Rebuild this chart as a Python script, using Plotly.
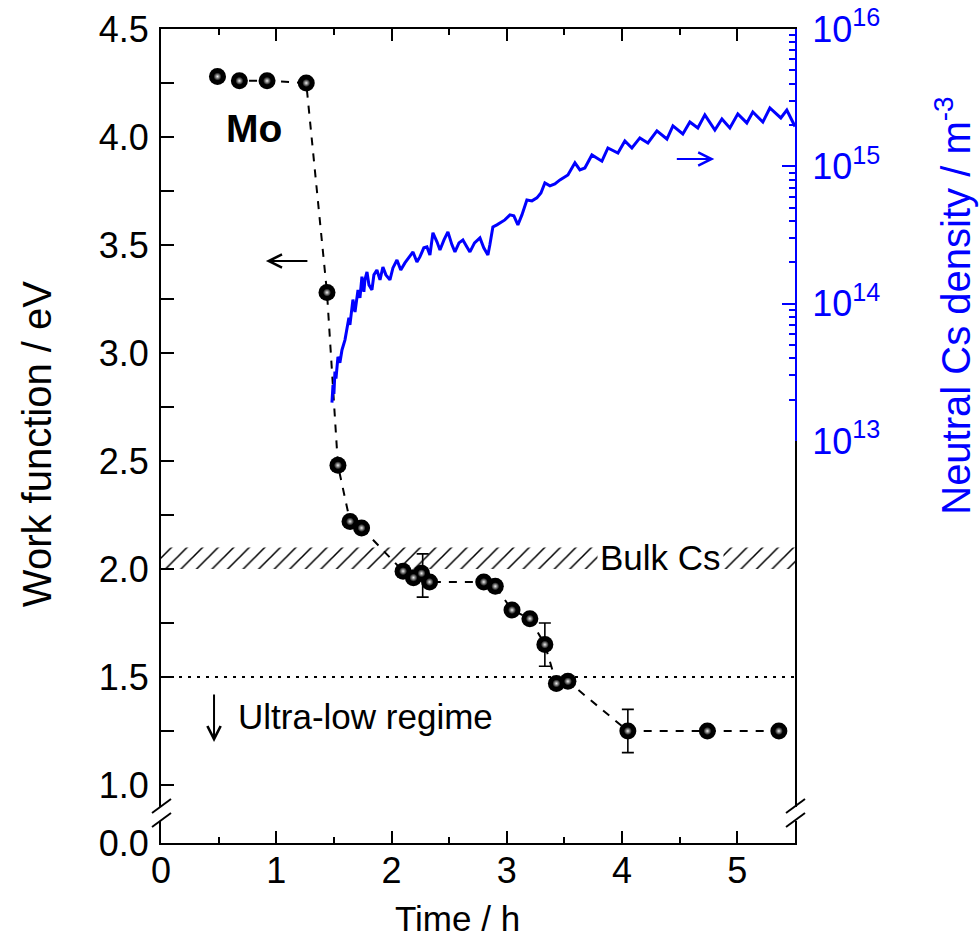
import plotly.graph_objects as go

# ---------------- data ----------------
# Work function of Mo during Cs exposure
wf_time = [0.49, 0.68, 0.92, 1.26, 1.44, 1.535, 1.64, 1.74, 2.10, 2.19, 2.26, 2.33,
           2.80, 2.90, 3.045, 3.20, 3.33, 3.43, 3.53, 4.05, 4.74, 5.36]
wf_value = [4.28, 4.26, 4.26, 4.25, 3.28, 2.48, 2.22, 2.19, 1.99, 1.96, 1.98, 1.94,
            1.94, 1.92, 1.81, 1.77, 1.65, 1.47, 1.48, 1.25, 1.25, 1.25]
# points carrying error bars
err_time = [2.27, 3.33, 4.05]
err_value = [1.97, 1.65, 1.25]
err_size = [0.10, 0.10, 0.10]

# Neutral Cs density (m^-3)
cs_time = [1.483, 1.492, 1.50, 1.509, 1.518, 1.535, 1.552, 1.57, 1.596, 1.613, 1.63, 1.639,
           1.665, 1.683, 1.709, 1.726, 1.743, 1.76, 1.769, 1.787, 1.804, 1.830, 1.847, 1.873,
           1.90, 1.925, 1.951, 1.986, 2.012, 2.047, 2.08, 2.116, 2.15, 2.186, 2.22, 2.246,
           2.28, 2.307, 2.333, 2.359, 2.394, 2.420, 2.455, 2.489, 2.524, 2.550, 2.585, 2.619,
           2.654, 2.680, 2.72, 2.767, 2.80, 2.836, 2.853, 2.879, 2.914, 2.940, 2.983, 3.027,
           3.061, 3.096, 3.131, 3.174, 3.218, 3.261, 3.296, 3.330, 3.374, 3.417, 3.461,
           3.530, 3.591, 3.634, 3.677, 3.738, 3.825, 3.877, 3.964, 4.024, 4.085, 4.154,
           4.224, 4.302, 4.389, 4.441, 4.527, 4.588, 4.657, 4.718, 4.805, 4.866, 4.935,
           5.004, 5.082, 5.134, 5.221, 5.282, 5.377, 5.429, 5.481, 5.50]
cs_density = [1.90e13, 2.55e13, 2.20e13, 3.20e13, 2.85e13, 4.10e13, 3.71e13, 4.60e13, 5.45e13,
              6.40e13, 7.90e13, 7.00e13, 1.07e14, 8.70e13, 1.26e14, 1.10e14, 1.57e14, 1.22e14,
              1.49e14, 1.70e14, 1.37e14, 1.26e14, 1.62e14, 1.76e14, 1.49e14, 1.85e14, 1.62e14,
              1.49e14, 1.82e14, 2.08e14, 1.76e14, 1.98e14, 2.15e14, 2.38e14, 2.01e14, 2.19e14,
              2.55e14, 2.59e14, 2.26e14, 3.28e14, 2.82e14, 2.46e14, 2.91e14, 3.33e14, 2.68e14,
              2.38e14, 2.77e14, 2.91e14, 2.59e14, 2.38e14, 2.77e14, 3.01e14, 2.55e14, 2.26e14,
              2.68e14, 3.62e14, 3.75e14, 3.87e14, 4.07e14, 4.43e14, 4.36e14, 3.75e14, 4.43e14,
              5.69e14, 5.60e14, 5.89e14, 6.40e14, 7.57e14, 7.20e14, 7.45e14, 7.96e14,
              8.65e14, 1.06e15, 9.42e14, 9.73e14, 1.21e15, 1.09e15, 1.36e15, 1.25e15, 1.53e15,
              1.36e15, 1.61e15, 1.48e15, 1.81e15, 1.58e15, 1.97e15, 1.72e15, 2.10e15, 1.90e15,
              2.37e15, 1.84e15, 2.21e15, 1.90e15, 2.41e15, 2.07e15, 2.49e15, 2.10e15, 2.66e15,
              2.25e15, 2.57e15, 2.07e15, 1.95e15]

bulk_cs_band = [2.0, 2.1]          # work function of bulk Cs (eV)
ultra_low_level = 1.5              # ultra-low regime threshold (eV)

x_ticks = [0, 1, 2, 3, 4, 5]
y_labels = ["1.0", "1.5", "2.0", "2.5", "3.0", "3.5", "4.0", "4.5"]
y_label_vals = [1.0, 1.5, 2.0, 2.5, 3.0, 3.5, 4.0, 4.5]
y_minor_vals = [1.25, 1.75, 2.25, 2.75, 3.25, 3.75, 4.25]
y2_tick_vals = [1e13, 1e14, 1e15, 1e16]
y2_tick_text = ["10<sup>13</sup>", "10<sup>14</sup>", "10<sup>15</sup>", "10<sup>16</sup>"]

# ---------------- layout constants ----------------
Y_BOTTOM = 0.7315      # axis bottom (displayed as 0.0 after break)
BREAK_Y = 0.866
FONT = "Liberation Sans, Arial, sans-serif"
BLUE = "#0000FF"

fig = go.Figure()

# hatched bulk Cs band
fig.add_trace(go.Scatter(
    x=[0, 5.5, 5.5, 0, 0],
    y=[bulk_cs_band[0], bulk_cs_band[0], bulk_cs_band[1], bulk_cs_band[1], bulk_cs_band[0]],
    fill="toself", mode="none", fillcolor="white",
    fillpattern=dict(shape="/", fgcolor="black", fgopacity=1, bgcolor="white",
                     size=11, solidity=0.14),
    hoverinfo="skip", showlegend=False))

# error bars
fig.add_trace(go.Scatter(
    x=err_time, y=err_value, mode="markers",
    marker=dict(size=1, color="rgba(0,0,0,0)"),
    error_y=dict(type="data", array=err_size, color="black", thickness=1.6, width=6),
    showlegend=False, hoverinfo="skip"))

# dashed connecting line
fig.add_trace(go.Scatter(
    x=wf_time, y=wf_value, mode="lines",
    line=dict(color="black", width=2, dash="8px,8px"),
    showlegend=False, hoverinfo="skip"))

# sphere markers
fig.add_trace(go.Scatter(
    x=wf_time, y=wf_value, mode="markers",
    marker=dict(size=17, color="black", line=dict(width=0)),
    showlegend=False))
fig.add_trace(go.Scatter(
    x=wf_time, y=wf_value, mode="markers",
    marker=dict(size=8, color="black", line=dict(width=0),
                gradient=dict(type="radial", color="#eeeeee")),
    showlegend=False, hoverinfo="skip"))

# neutral Cs density
fig.add_trace(go.Scatter(
    x=cs_time, y=cs_density, mode="lines", yaxis="y2",
    line=dict(color=BLUE, width=3), showlegend=False))

tick_font = dict(family=FONT, size=36, color="black")

fig.update_layout(
    width=980, height=943,
    margin=dict(l=161, r=185, t=29, b=100, autoexpand=False),
    paper_bgcolor="white", plot_bgcolor="rgba(0,0,0,0)",
    font=dict(family=FONT, color="black"),
    xaxis=dict(
        range=[0, 5.5], showgrid=False, zeroline=False, automargin=False,
        showline=True, linecolor="black", linewidth=2, mirror="ticks",
        ticks="inside", ticklen=12, tickwidth=2, tickcolor="black",
        tickvals=x_ticks, tickfont=tick_font, ticklabelstandoff=-5,
        minor=dict(dtick=0.5, tick0=0, ticks="inside", ticklen=6, tickwidth=2,
                   tickcolor="black", showgrid=False),
    ),
    yaxis=dict(
        range=[Y_BOTTOM, 4.5], showgrid=False, zeroline=False, automargin=False,
        showline=True, linecolor="black", linewidth=2, mirror=True,
        ticks="inside", ticklen=13, tickwidth=2, tickcolor="black",
        tickvals=[Y_BOTTOM] + y_label_vals + y_minor_vals,
        ticktext=["0.0"] + y_labels + [""] * len(y_minor_vals),
        tickfont=tick_font, ticklabelstandoff=3,
    ),
    yaxis2=dict(
        type="log", range=[13, 16], domain=[0.4939, 1], anchor="x", side="right",
        showgrid=False, zeroline=False, automargin=False,
        showline=True, linecolor=BLUE, linewidth=2,
        ticks="inside", ticklen=13, tickwidth=2, tickcolor=BLUE,
        tickvals=y2_tick_vals, ticktext=y2_tick_text,
        tickfont=dict(family=FONT, size=36, color=BLUE), ticklabelstandoff=8,
        minor=dict(ticks="inside", ticklen=6, tickwidth=2, tickcolor=BLUE,
                   dtick="D1", showgrid=False),
    ),
)

# ultra-low dotted threshold
fig.add_shape(type="line", xref="paper", x0=0, x1=1, yref="y",
              y0=ultra_low_level, y1=ultra_low_level,
              line=dict(color="black", width=2, dash="3px,6px"))

# axis breaks (left and right)
for xa in (0, 1):
    fig.add_shape(type="rect", xref="paper", xsizemode="pixel", xanchor=xa, x0=-5, x1=5,
                  yref="y", ysizemode="pixel", yanchor=BREAK_Y, y0=-7, y1=7,
                  fillcolor="white", line=dict(width=0), layer="above")
    for dy in (0, -14):
        fig.add_shape(type="line", xref="paper", xsizemode="pixel", xanchor=xa,
                      x0=-9, x1=10, yref="y", ysizemode="pixel", yanchor=BREAK_Y,
                      y0=1 + dy, y1=15 + dy,
                      line=dict(color="black", width=2), layer="above")

# text annotations
fig.add_annotation(x=0.81, y=4.04, text="<b>Mo</b>", showarrow=False,
                   xanchor="center", yanchor="middle",
                   font=dict(family=FONT, size=39, color="black"))
fig.add_annotation(x=4.33, y=2.055, text="Bulk Cs", showarrow=False, bgcolor="white",
                   xanchor="center", yanchor="middle", borderpad=2,
                   font=dict(family=FONT, size=35, color="black"))
fig.add_annotation(x=0.65, y=1.315, text="Ultra-low regime", showarrow=False,
                   xanchor="left", yanchor="middle",
                   font=dict(family=FONT, size=35, color="black"))

# arrows
fig.add_annotation(x=0.91, y=3.426, ax=43, ay=0, text="", showarrow=True,
                   arrowhead=5, arrowsize=1.3, arrowwidth=2, arrowcolor="black")
fig.add_annotation(x=4.80, y=3.898, ax=-39, ay=0, text="", showarrow=True,
                   arrowhead=5, arrowsize=1.3, arrowwidth=2, arrowcolor=BLUE)
fig.add_annotation(x=0.46, y=1.199, ax=0, ay=-49, text="", showarrow=True,
                   arrowhead=5, arrowsize=1.3, arrowwidth=2, arrowcolor="black")

# axis titles
fig.add_annotation(xref="paper", yref="paper", x=0, y=0.49, xshift=-124, textangle=-90,
                   xanchor="center", yanchor="middle",
                   text="Work function / eV", showarrow=False,
                   font=dict(family=FONT, size=40, color="black"))
fig.add_annotation(xref="paper", yref="paper", x=0.467, y=0, yshift=-75,
                   xanchor="center", yanchor="middle",
                   text="Time / h", showarrow=False,
                   font=dict(family=FONT, size=35, color="black"))
fig.add_annotation(xref="paper", yref="paper", x=1, y=0.66, xshift=158, textangle=-90,
                   xanchor="center", yanchor="middle",
                   text="Neutral Cs density / m<sup>-3</sup>", showarrow=False,
                   font=dict(family=FONT, size=40, color=BLUE))

fig.write_html("out.html")
